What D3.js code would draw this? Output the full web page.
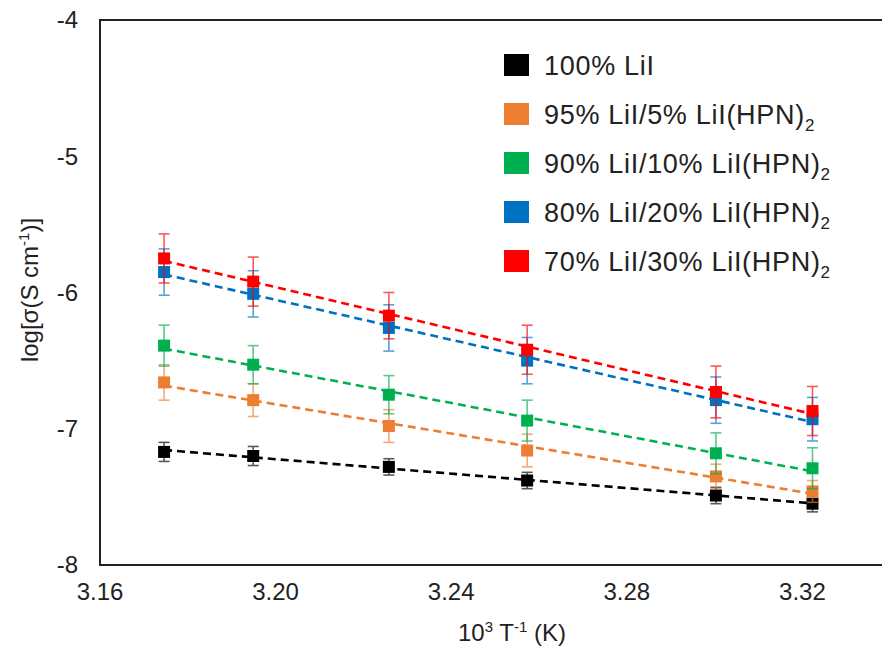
<!DOCTYPE html>
<html>
<head>
<meta charset="utf-8">
<script src="https://cdn.jsdelivr.net/npm/d3@7"></script>
<style>
  html, body { margin: 0; padding: 0; background: #fff; }
  svg { display: block; font-family: "Liberation Sans", Arial, sans-serif; }
</style>
</head>
<body>
<svg id="chart" width="882" height="647"></svg>
<script>
// ---- data ----
const xValues = [3.1746, 3.1949, 3.2258, 3.2573, 3.3003, 3.3223];
const seriesNames = ["100% LiI", "95% LiI/5% LiI(HPN)", "90% LiI/10% LiI(HPN)", "80% LiI/20% LiI(HPN)", "70% LiI/30% LiI(HPN)"];
const seriesSub = ["", "2", "2", "2", "2"];
const seriesColors = ["#000000", "#ED7D31", "#00B050", "#0070C0", "#FF0000"];
const valsLiI100 = [-7.17, -7.20, -7.28, -7.38, -7.49, -7.55];
const valsHPN5   = [-6.66, -6.79, -6.98, -7.16, -7.35, -7.46];
const valsHPN10  = [-6.39, -6.53, -6.75, -6.94, -7.18, -7.29];
const valsHPN20  = [-5.85, -6.01, -6.26, -6.50, -6.79, -6.93];
const valsHPN30  = [-5.75, -5.92, -6.17, -6.42, -6.73, -6.87];
const errLiI100 = [0.07, 0.07, 0.06, 0.06, 0.06, 0.06];
const errHPN5   = [0.13, 0.12, 0.12, 0.12, 0.09, 0.08];
const errHPN10  = [0.15, 0.14, 0.14, 0.15, 0.15, 0.15];
const errHPN20  = [0.17, 0.17, 0.17, 0.17, 0.17, 0.16];
const errHPN30  = [0.18, 0.18, 0.17, 0.18, 0.19, 0.18];
const xTicks = [3.16, 3.20, 3.24, 3.28, 3.32];
const yTicks = [-8, -7, -6, -5, -4];

const allVals = [valsLiI100, valsHPN5, valsHPN10, valsHPN20, valsHPN30];
const allErrs = [errLiI100, errHPN5, errHPN10, errHPN20, errHPN30];

// ---- layout ----
const svg = d3.select("#chart");
const x = d3.scaleLinear().domain([3.16, 3.36]).range([100, 978]);
const y = d3.scaleLinear().domain([-8, -4]).range([565, 20]);

// plot frame
svg.append("rect")
  .attr("x", x(3.16)).attr("y", y(-4))
  .attr("width", x(3.36) - x(3.16)).attr("height", y(-8) - y(-4))
  .attr("fill", "none").attr("stroke", "#222").attr("stroke-width", 2);

// y tick labels
svg.append("g").selectAll("text").data(yTicks).join("text")
  .attr("x", 78).attr("y", d => y(d)).attr("dy", "0.35em")
  .attr("text-anchor", "end").attr("font-size", 24).attr("fill", "#222")
  .text(d => d3.format("d")(d).replace("−", "-"));

// x tick labels
svg.append("g").selectAll("text").data(xTicks).join("text")
  .attr("x", d => x(d)).attr("y", 592).attr("dy", "0.35em")
  .attr("text-anchor", "middle").attr("font-size", 24).attr("fill", "#222")
  .text(d => d3.format(".2f")(d));

// axis titles
const xt = svg.append("text").attr("x", 512).attr("y", 641)
  .attr("text-anchor", "middle").attr("font-size", 24).attr("fill", "#222");
xt.append("tspan").text("10");
xt.append("tspan").attr("font-size", 15).attr("dy", -9).text("3");
xt.append("tspan").attr("dy", 9).text(" T");
xt.append("tspan").attr("font-size", 15).attr("dy", -9).text("-1");
xt.append("tspan").attr("dy", 9).text(" (K)");

const yt = svg.append("text").attr("transform", "translate(30,290) rotate(-90)")
  .attr("text-anchor", "middle").attr("dy", "0.35em").attr("font-size", 24).attr("fill", "#222");
yt.append("tspan").text("log[σ(S cm");
yt.append("tspan").attr("font-size", 15).attr("dy", -9).text("-1");
yt.append("tspan").attr("dy", 9).text(")]");

// series
const plot = svg.append("g");
allVals.forEach((vals, si) => {
  const color = seriesColors[si];
  const errs = allErrs[si];
  const pts = xValues.map((xv, i) => ({x: xv, y: vals[i], e: errs[i]}));
  // linear trendline (least squares fit of the data)
  const n = pts.length;
  const mx = d3.mean(pts, p => p.x), my = d3.mean(pts, p => p.y);
  const slope = d3.sum(pts, p => (p.x - mx) * (p.y - my)) / d3.sum(pts, p => (p.x - mx) ** 2);
  const icpt = my - slope * mx;
  const x0 = xValues[0], x1 = xValues[n - 1];
  const g = plot.append("g");
  g.append("line")
    .attr("x1", x(x0)).attr("y1", y(icpt + slope * x0))
    .attr("x2", x(x1)).attr("y2", y(icpt + slope * x1))
    .attr("stroke", color).attr("stroke-width", 2.6)
    .attr("stroke-dasharray", "8,5");
  // error bars
  const eb = g.append("g").attr("stroke", color).attr("stroke-width", 1.6).attr("opacity", 0.65);
  pts.forEach(p => {
    eb.append("line").attr("x1", x(p.x)).attr("x2", x(p.x))
      .attr("y1", y(p.y - p.e)).attr("y2", y(p.y + p.e));
    eb.append("line").attr("x1", x(p.x) - 5.5).attr("x2", x(p.x) + 5.5)
      .attr("y1", y(p.y - p.e)).attr("y2", y(p.y - p.e));
    eb.append("line").attr("x1", x(p.x) - 5.5).attr("x2", x(p.x) + 5.5)
      .attr("y1", y(p.y + p.e)).attr("y2", y(p.y + p.e));
  });
  // markers
  g.selectAll("rect.m").data(pts).join("rect").attr("class", "m")
    .attr("x", p => x(p.x) - 6).attr("y", p => y(p.y) - 6)
    .attr("width", 12).attr("height", 12).attr("fill", color);
});

// legend
const leg = svg.append("g");
seriesNames.forEach((name, i) => {
  const cy = 65 + i * 49;
  leg.append("rect").attr("x", 504).attr("y", cy - 11).attr("width", 25).attr("height", 22)
    .attr("fill", seriesColors[i]);
  const t = leg.append("text").attr("x", 544).attr("y", cy).attr("dy", "0.36em")
    .attr("font-size", 27).attr("letter-spacing", 0.7).attr("fill", "#222");
  t.append("tspan").text(name);
  if (seriesSub[i]) t.append("tspan").attr("font-size", 17).attr("dy", 7).text(seriesSub[i]);
});
</script>
</body>
</html>
